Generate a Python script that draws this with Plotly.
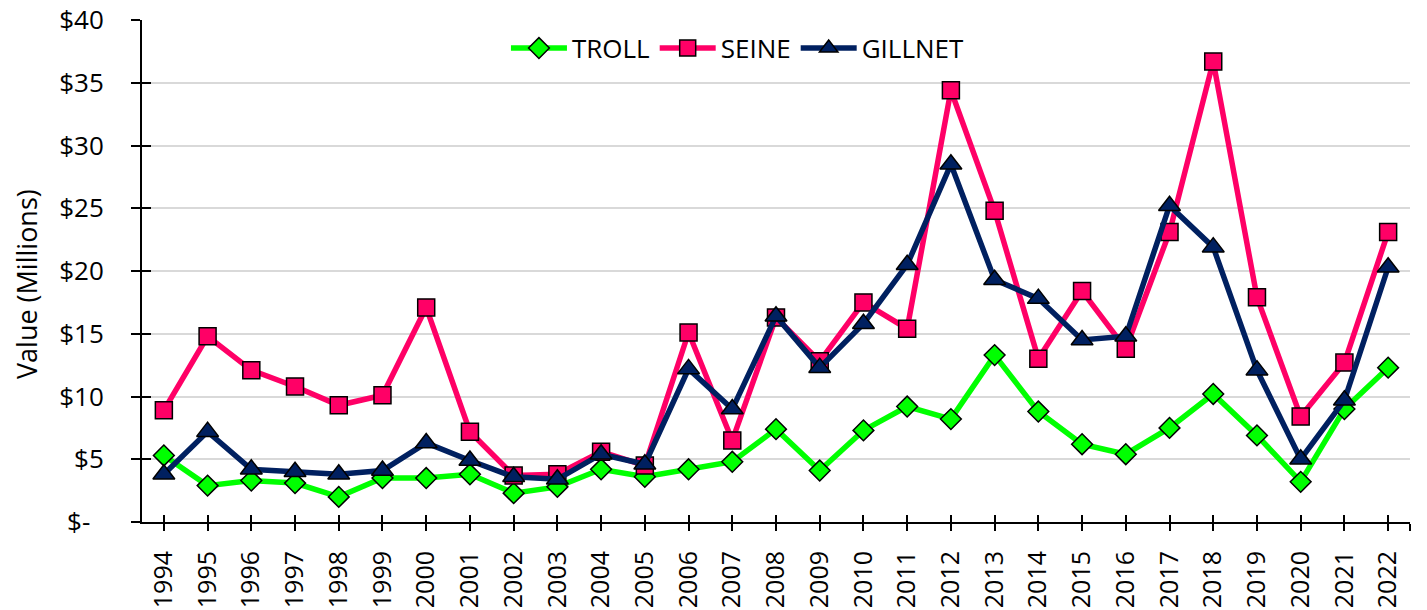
import plotly.graph_objects as go

years = list(range(1994, 2023))
troll = [5.3, 2.9, 3.3, 3.1, 2.0, 3.5, 3.5, 3.8, 2.3, 2.8, 4.2, 3.6, 4.2, 4.8, 7.4,
         4.1, 7.3, 9.2, 8.2, 13.3, 8.8, 6.2, 5.4, 7.5, 10.2, 6.9, 3.2, 9.0, 12.3]
seine = [8.9, 14.8, 12.1, 10.8, 9.3, 10.1, 17.1, 7.2, 3.7, 3.8, 5.6, 4.5, 15.1, 6.5, 16.3,
         12.8, 17.5, 15.4, 34.4, 24.8, 13.0, 18.4, 13.8, 23.1, 36.7, 17.9, 8.4, 12.7, 23.1]
gillnet = [3.8, 7.2, 4.2, 4.0, 3.8, 4.1, 6.3, 4.9, 3.6, 3.4, 5.4, 4.6, 12.2, 9.0, 16.4,
           12.3, 15.8, 20.5, 28.5, 19.3, 17.8, 14.5, 14.8, 25.2, 21.9, 12.1, 5.0, 9.7, 20.3]
ytick_vals = [0, 5, 10, 15, 20, 25, 30, 35, 40]
ytick_text = ["$-\u00a0\u00a0", "$5", "$10", "$15", "$20", "$25", "$30", "$35", "$40"]

FONT = "Open Sans"
fig = go.Figure()
series = [
    ("TROLL", troll, "#00FF00", "diamond", 16),
    ("SEINE", seine, "#FF0066", "square", 17),
    ("GILLNET", gillnet, "#002060", "triangle-up", 19),
]
for name, vals, col, sym, sz in series:
    fig.add_trace(go.Scatter(
        x=years, y=vals, name=name, mode="lines+markers",
        line=dict(color=col, width=5.5),
        marker=dict(symbol=sym, size=sz, color=col, line=dict(color="black", width=1.5)),
    ))

xr = [years[0] - 0.5, years[-1] + 0.5]
yr = [0, 40]
xt = years + [years[-1] + 0.5]
# page body adds an 8px offset; size the figure to fill the remaining viewport
fig.update_layout(
    width=1419, height=602,
    margin=dict(l=134, r=17, t=12, b=88),
    plot_bgcolor="white", paper_bgcolor="white",
    font=dict(family=FONT, color="black"),
    showlegend=True,
    legend=dict(orientation="h", x=0.470, xanchor="center", y=0.944, yanchor="middle",
                font=dict(size=26, family=FONT), bgcolor="rgba(0,0,0,0)",
                itemwidth=56, tracegroupgap=0),
    xaxis=dict(range=xr, tickmode="array", tickvals=xt,
               ticktext=[str(y) for y in years] + [""],
               tickangle=-90, tickfont=dict(size=25, family=FONT), automargin=False,
               showgrid=False, showline=True, linecolor="black", linewidth=2,
               ticks="outside", ticklen=7, tickwidth=2, tickcolor="black", zeroline=False,
               ticklabelstandoff=10, ticklabeloverflow="allow"),
    yaxis=dict(range=yr, tickmode="array", tickvals=ytick_vals, ticktext=ytick_text,
               tickfont=dict(size=26, family=FONT), automargin=False,
               showgrid=True, gridcolor="#D9D9D9", gridwidth=2,
               showline=True, linecolor="black", linewidth=2,
               ticks="outside", ticklen=9, tickwidth=2, tickcolor="black", zeroline=False,
               ticklabelstandoff=22, ticklabeloverflow="allow"),
    xaxis2=dict(range=xr, overlaying="x", tickmode="array", tickvals=xt,
                showticklabels=False, showgrid=False, ticks="inside", ticklen=7,
                tickwidth=2, tickcolor="black", zeroline=False, side="bottom", automargin=False),
    yaxis2=dict(range=yr, overlaying="y", tickmode="array", tickvals=ytick_vals,
                showticklabels=False, showgrid=False, ticks="inside", ticklen=9,
                tickwidth=2, tickcolor="black", zeroline=False, side="left", automargin=False),
    annotations=[dict(text="Value (Millions)", textangle=-90, xref="paper", yref="paper",
                      x=-0.0915, y=0.474, xanchor="center", yanchor="middle", showarrow=False,
                      font=dict(size=27, family=FONT))],
)
fig.add_trace(go.Scatter(x=[years[0]], y=[0], xaxis="x2", yaxis="y2", mode="markers",
                         marker=dict(opacity=0), showlegend=False, hoverinfo="skip"))
fig.write_html("out.html")
